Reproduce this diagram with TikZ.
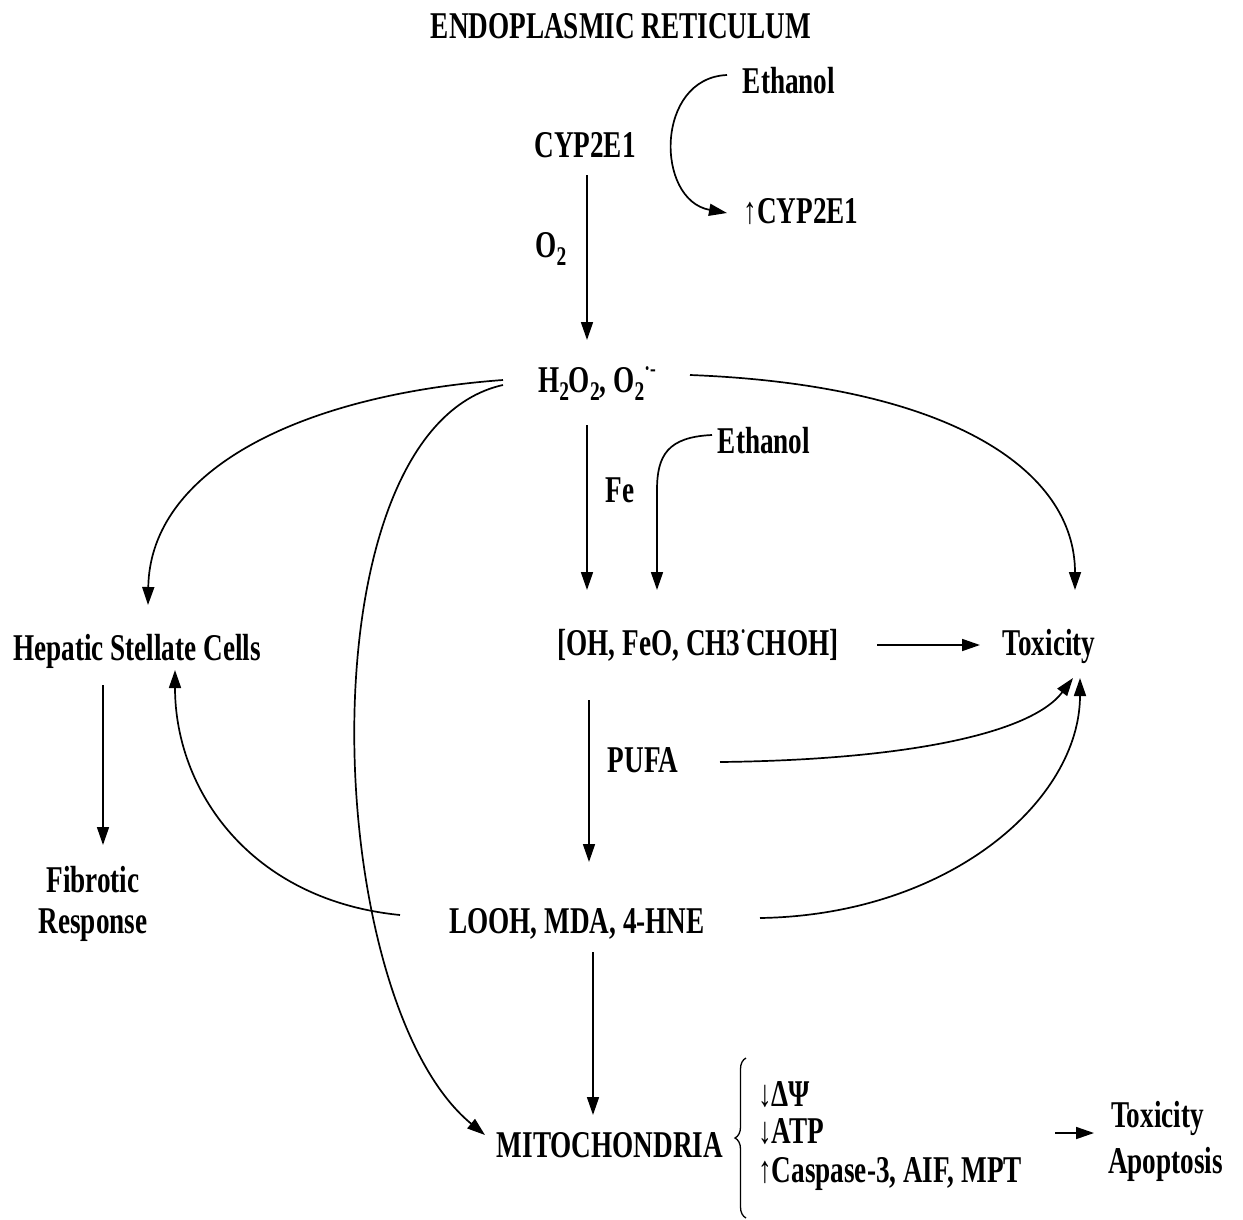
\documentclass[tikz,border=0pt]{standalone}
\usepackage{fontspec}
\setmainfont{Liberation Serif}[FakeStretch=0.72]
\usetikzlibrary{arrows.meta,decorations.pathreplacing,calc}
\newcommand\mysub[1]{\raisebox{-0.22em}{\fontsize{27}{27}\selectfont #1}}
\newcommand\mysup[1]{\raisebox{0.42em}{\fontsize{24}{24}\selectfont #1}}
\begin{document}
\begin{tikzpicture}[x=1pt,y=-1pt,
  lab/.style={inner sep=0pt,anchor=base,font=\bfseries\fontsize{37.8}{41}\selectfont},
  labw/.style={lab,anchor=base west},
  arr/.style={line width=1.7pt,-{Triangle[length=18pt,width=12pt]}}]
\useasboundingbox[fill=white] (0,0) rectangle (1243,1219);

% nodes
\node[lab] (title) at (621,38) {ENDOPLASMIC RETICULUM};
\node[lab] (eth1) at (789,93) {Ethanol};
\node[lab] (cyp) at (585,157) {CYP2E1};
\node[lab] (cypup) at (801,223) {↑CYP2E1};
\node[lab] (o2) at (551,257) {O\mysub{2}};
\node[lab] (h2o2) at (597,392) {H\mysub{2}O\mysub{2}, O\mysub{2}\mysup{·-}};
\node[lab] (eth2) at (764,453) {Ethanol};
\node[lab] (fe) at (620,502) {Fe};
\node[lab] (oh) at (698,655) {[OH, FeO, CH3\mysup{·}CHOH]};
\node[lab] (tox) at (1049,655) {Toxicity};
\node[lab] (hsc) at (137,660) {Hepatic Stellate Cells};
\node[lab] (pufa) at (643,772) {PUFA};
\node[lab,anchor=north,align=center] (fib) at (93,866) {Fibrotic\\Response};
\node[lab] (looh) at (577,933) {LOOH, MDA, 4-HNE};
\node[lab] (mito) at (610,1157) {MITOCHONDRIA};
\node[labw] (l1) at (758,1106) {↓ΔΨ};
\node[labw] (l2) at (758,1143) {↓ATP};
\node[labw] (l3) at (758,1182) {↑Caspase-3, AIF, MPT};
\node[labw] (ta1) at (1111,1127) {Toxicity};
\node[labw] (ta2) at (1108,1173) {Apoptosis};

% brace
\coordinate (bb) at (746,1218);
\coordinate (bt) at (746,1058);
\draw[line width=1.3pt,decorate,decoration={brace,amplitude=11pt,aspect=0.5}] (bb) -- (bt);

% connectors
\draw[arr] ($(cyp.base)+(2,18)$) -- ($(h2o2.base)+(-10,-52)$);
\draw[arr] ($(eth1.base)+(-62,-18)$) .. controls (655,78) and (655,200) .. ($(cypup.base)+(-74,-10)$);
\draw[arr] ($(h2o2.base)+(-10,33)$) -- ($(oh.base)+(-111,-65)$);
\draw[arr] ($(eth2.base)+(-52,-18)$) .. controls (668,437) and (657,455) .. (657,490) -- ($(oh.base)+(-41,-65)$);
\draw[arr] ($(oh.base)+(179,-10)$) -- ($(tox.base)+(-69,-10)$);
\draw[arr] ($(h2o2.base)+(93,-17)$) .. controls (950,385) and (1075,470) .. ($(tox.base)+(26,-65)$);
\draw[arr] ($(h2o2.base)+(-94,-12)$) .. controls (300,395) and (150,470) .. ($(hsc.base)+(11,-55)$);
\draw[arr] ($(h2o2.base)+(-94,-7)$) .. controls (300,430) and (320,1000) .. ($(mito.base)+(-125,-22)$);
\draw[arr] ($(oh.base)+(-109,45)$) -- ($(looh.base)+(12,-71)$);
\draw[arr] ($(pufa.base)+(77,-10)$) .. controls (900,760) and (1030,735) .. ($(tox.base)+(24,23)$);
\draw[arr] ($(looh.base)+(183,-15)$) .. controls (950,915) and (1080,800) .. ($(tox.base)+(31,23)$);
\draw[arr] ($(looh.base)+(-177,-18)$) .. controls (250,900) and (175,790) .. ($(hsc.base)+(38,10)$);
\draw[arr] ($(hsc.base)+(-34,25)$) -- ($(fib.north)+(10,-21)$);
\draw[arr] ($(looh.base)+(16,19)$) -- ($(mito.base)+(-17,-42)$);
\draw[arr] ($(l2.base west)+(297,-10)$) -- ($(ta1.base west)+(-17,6)$);
\end{tikzpicture}
\end{document}
